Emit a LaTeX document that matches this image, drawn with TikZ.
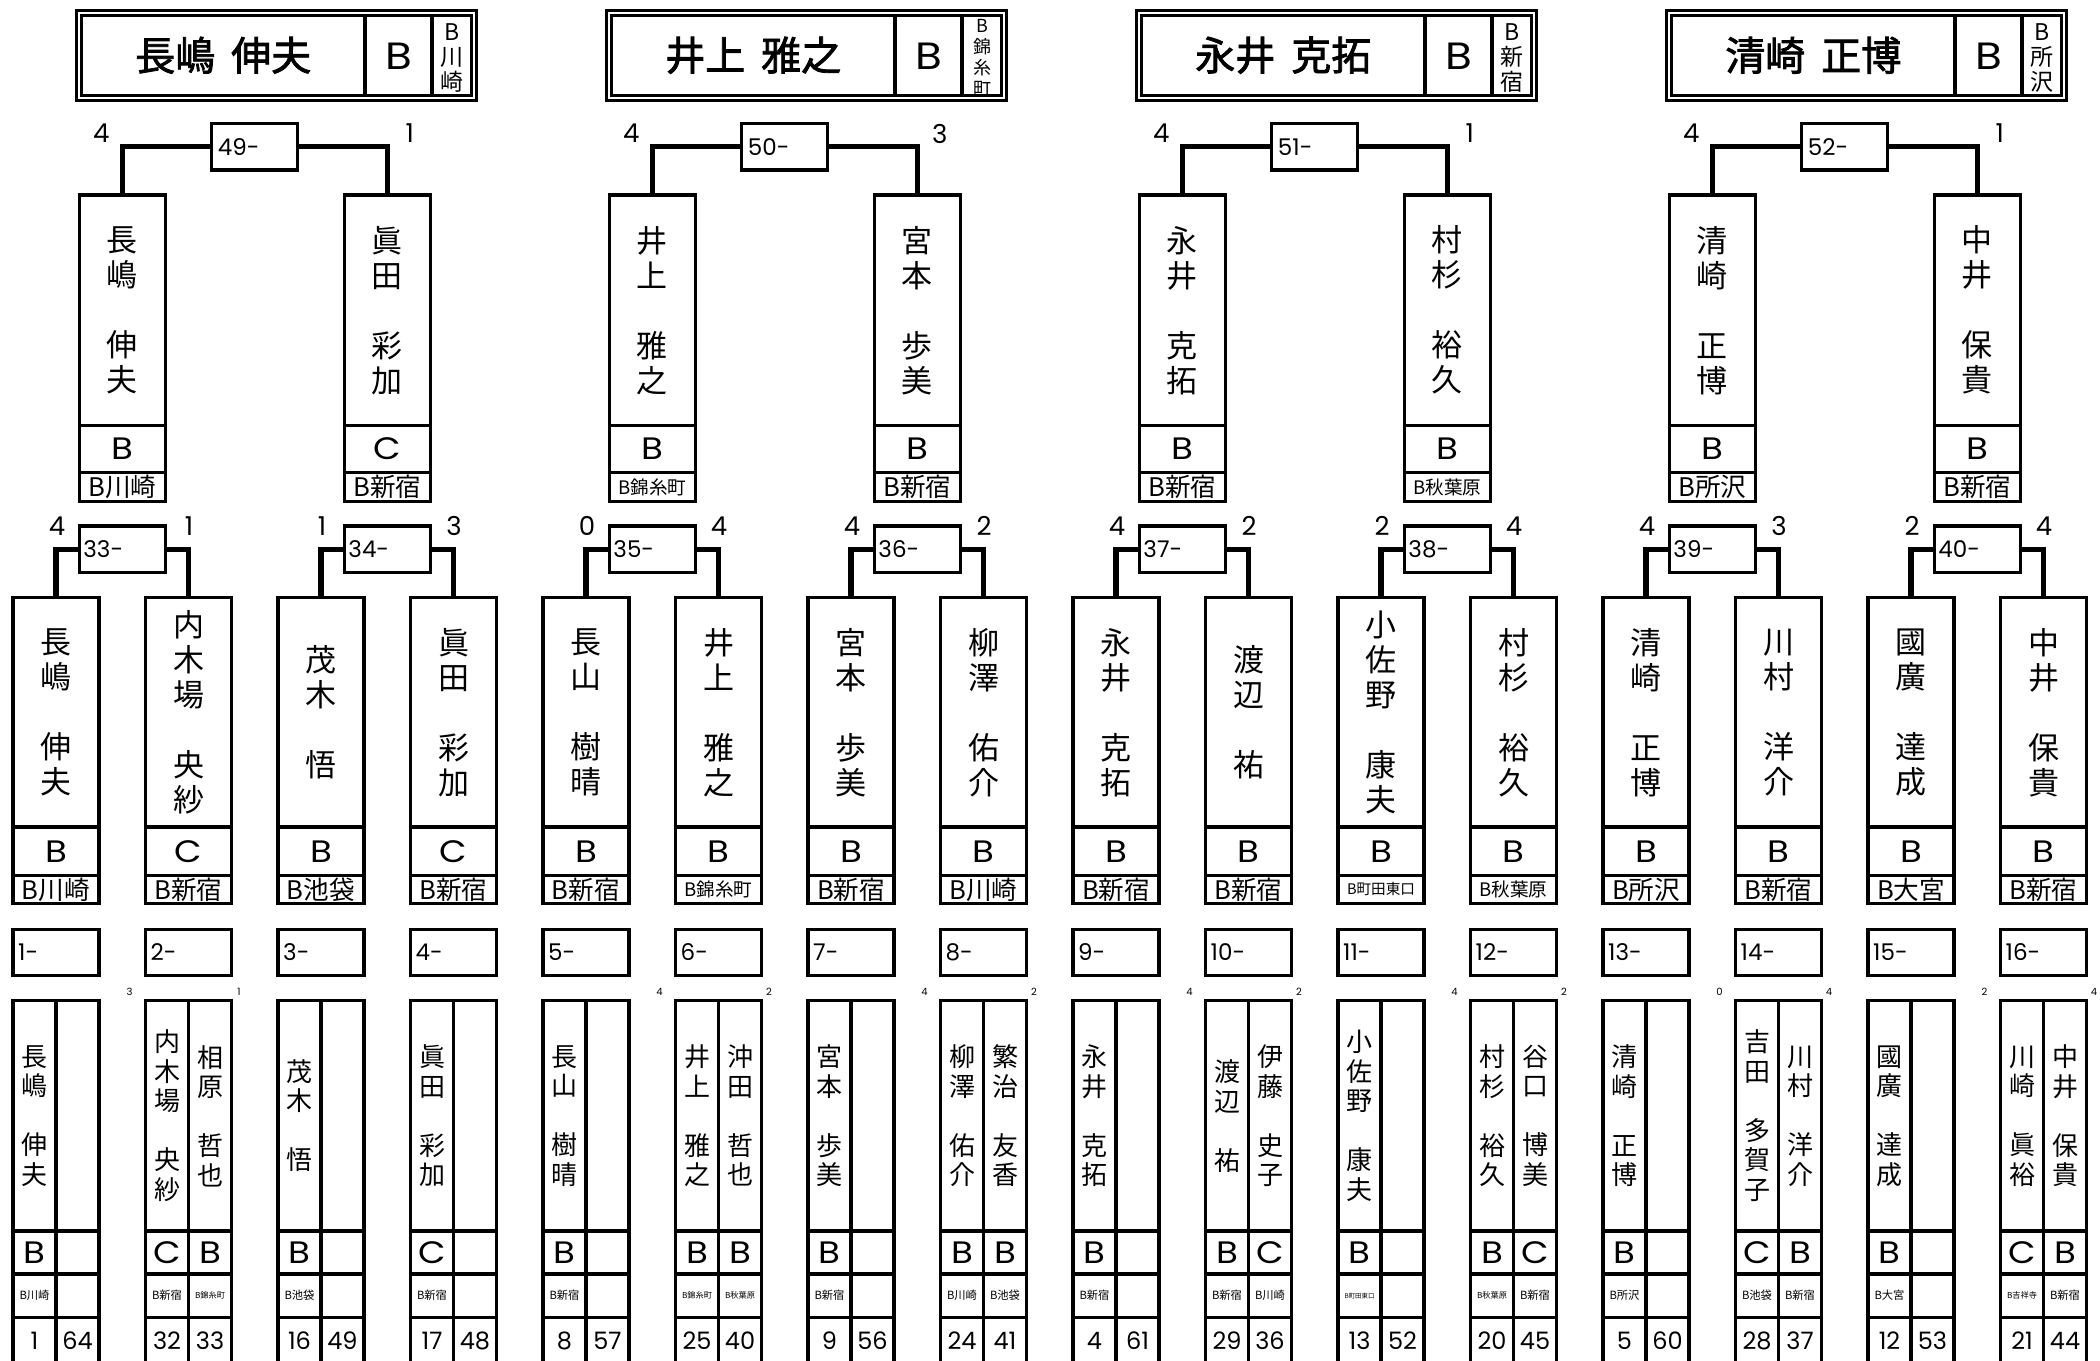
\documentclass[tikz,border=0pt]{standalone}
\usepackage{fontspec}
\usepackage{graphicx}
\setmainfont{Noto Sans CJK JP}
\newfontfamily\latin{Poppins}
\newfontfamily\titlefont[FakeBold=2]{Noto Sans CJK JP}
\makeatletter
\def\vstk#1{\vstk@a#1\vstk@end}
\def\vstk@end{\vstk@end}
\def\vstk@a#1{#1\vstk@b}
\def\vstk@b#1{\ifx#1\vstk@end\else\expandafter\vstk@c\expandafter#1\fi}
\def\vstk@c#1{\\#1\vstk@b}
\newcommand\evstk[1]{\expandafter\vstk\expandafter{#1}}
\makeatother
\newcommand\wide[1]{\scalebox{1.15}[1]{#1}}
\tikzset{
  cell/.style={draw, line width=3.2pt, inner sep=0pt, outer sep=0pt, minimum width=86pt},
  halfcell/.style={draw, line width=3.2pt, inner sep=0pt, outer sep=0pt, minimum width=43pt},
  midname/.style={font=\fontsize{31}{35}\selectfont, align=center},
  botname/.style={font=\fontsize{26}{29.5}\selectfont, align=center},
  grade/.style={font=\latin\fontsize{31}{33}\selectfont},
  numtxt/.style={font=\latin\fontsize{24}{26}\selectfont},
  mlabel/.style={font=\latin\fontsize{23}{25}\selectfont, anchor=west, inner sep=0pt},
  score/.style={font=\latin\fontsize{26}{28}\selectfont, inner sep=0pt},
  tinyscore/.style={font=\latin\fontsize{10}{11}\selectfont, inner sep=0pt},
  bracket/.style={line width=5.5pt},
  divider/.style={line width=3.2pt},
  titlebox/.style={draw, double, line width=3pt, double distance=2pt, inner sep=0pt, outer sep=0pt, minimum width=395pt, minimum height=85pt},
}
\begin{document}
\begin{tikzpicture}[x=1pt,y=-1pt]
\useasboundingbox (0,0) rectangle (2100,1360);
\clip (0,0) rectangle (2100,1360);

% ---------- semifinal boxes ----------
\foreach \s/\nm/\gr/\cl in {
 1/長嶋　伸夫/B/B川崎,
 2/眞田　彩加/C/B新宿,
 3/井上　雅之/B/B錦糸町,
 4/宮本　歩美/B/B新宿,
 5/永井　克拓/B/B新宿,
 6/村杉　裕久/B/B秋葉原,
 7/清崎　正博/B/B所沢,
 8/中井　保貴/B/B新宿}{
  \pgfmathsetmacro\x{122.25+265*(\s-1)}
  \node[cell, minimum height=230.5pt, midname] (sn\s) at (\x,310.25) {\evstk{\nm}};
  \node[cell, minimum height=47.2pt, grade] (sg\s) at (\x,449.1) {\wide{\gr}};
  \node[cell, minimum height=28.6pt] (sc\s) at (\x,487) {\resizebox{68pt}{!}{\cl}};
}

% ---------- titles and final matches ----------
\foreach \kk/\mn/\scl/\scr/\fa/\gv/\club/\fs/\bs/\cy in {
 0/49/4/1/長嶋/伸夫/{B\\川\\崎}/23/25/58,
 1/50/4/3/井上/雅之/{B\\錦\\糸\\町}/18/21/58,
 2/51/4/1/永井/克拓/{B\\新\\宿}/23/25/58,
 3/52/4/1/清崎/正博/{B\\所\\沢}/23/25/58}{
  \pgfmathsetmacro\q{530*\kk}
  \pgfmathtruncatemacro\a{2*\kk+1}
  \pgfmathtruncatemacro\b{2*\kk+2}
  \node[titlebox] (t\kk) at (276.5+\q,55.25) {};
  \draw[divider] (365+\q,14) -- (365+\q,96.5);
  \draw[divider] (432+\q,14) -- (432+\q,96.5);
  \node[font=\titlefont\fontsize{40}{44}\selectfont] (tn\kk) at (223.25+\q,55.25) {\fa\kern0.4em\gv};
  \node[font=\latin\fontsize{38}{40}\selectfont] (tg\kk) at (398.5+\q,56) {\wide{B}};
  \node[align=center, font=\fontsize{\fs}{\bs}\selectfont, inner sep=0pt] (tc\kk) at (452+\q,\cy) {\club};
  \node[cell, minimum height=46.7pt] (f\kk) at (254.75+\q,146.7) {};
  \node[mlabel] at ([xshift=6pt]f\kk.west) {\mn-};
  \draw[bracket] (f\kk.west) -| (sn\a.north);
  \draw[bracket] (f\kk.east) -| (sn\b.north);
  \node[score] at (101.25+\q,133.5) {\scl};
  \node[score] at (409.75+\q,133.5) {\scr};
}

% ---------- first-round winners and match number boxes ----------
\foreach \i/\nm/\gr/\cl in {
 1/長嶋　伸夫/B/B川崎,
 2/内木場　央紗/C/B新宿,
 3/茂木　悟/B/B池袋,
 4/眞田　彩加/C/B新宿,
 5/長山　樹晴/B/B新宿,
 6/井上　雅之/B/B錦糸町,
 7/宮本　歩美/B/B新宿,
 8/柳澤　佑介/B/B川崎,
 9/永井　克拓/B/B新宿,
 10/渡辺　祐/B/B新宿,
 11/小佐野　康夫/B/B町田東口,
 12/村杉　裕久/B/B秋葉原,
 13/清崎　正博/B/B所沢,
 14/川村　洋介/B/B新宿,
 15/國廣　達成/B/B大宮,
 16/中井　保貴/B/B新宿}{
  \pgfmathsetmacro\x{56+132.5*(\i-1)}
  \node[cell, minimum height=229.3pt, midname] (rn\i) at (\x,712.35) {\evstk{\nm}};
  \node[cell, minimum height=48.5pt, grade] (rg\i) at (\x,851.25) {\wide{\gr}};
  \node[cell, minimum height=27.8pt] (rc\i) at (\x,889.4) {\resizebox{68pt}{!}{\cl}};
  \node[cell, minimum height=46.4pt] (mb\i) at (\x,952.5) {};
  \node[mlabel] at ([xshift=5pt]mb\i.west) {\i-};
}

% ---------- second-round matches ----------
\foreach \j/\mn/\scl/\scr in {1/33/4/1, 2/34/1/3, 3/35/0/4, 4/36/4/2, 5/37/4/2, 6/38/2/4, 7/39/4/3, 8/40/2/4}{
  \pgfmathsetmacro\x{122.25+265*(\j-1)}
  \pgfmathtruncatemacro\a{2*\j-1}
  \pgfmathtruncatemacro\b{2*\j}
  \node[cell, minimum height=46.7pt] (m\j) at (\x,549.3) {};
  \node[mlabel] at ([xshift=4pt]m\j.west) {\mn-};
  \draw[bracket] (m\j.west) -| (rn\a.north);
  \draw[bracket] (m\j.east) -| (rn\b.north);
  \node[score] at (\x-65.25,526) {\scl};
  \node[score] at (\x+66.75,526) {\scr};
}

% ---------- bottom entry boxes ----------
\foreach \i/\nm/\gr/\cl/\na/\nb in {
 1/長嶋　伸夫/B/B川崎/1/64,
 2/内木場　央紗/C/B新宿/32/33,
 3/茂木　悟/B/B池袋/16/49,
 4/眞田　彩加/C/B新宿/17/48,
 5/長山　樹晴/B/B新宿/8/57,
 6/井上　雅之/B/B錦糸町/25/40,
 7/宮本　歩美/B/B新宿/9/56,
 8/柳澤　佑介/B/B川崎/24/41,
 9/永井　克拓/B/B新宿/4/61,
 10/渡辺　祐/B/B新宿/29/36,
 11/小佐野　康夫/B/B町田東口/13/52,
 12/村杉　裕久/B/B秋葉原/20/45,
 13/清崎　正博/B/B所沢/5/60,
 14/吉田　多賀子/C/B池袋/28/37,
 15/國廣　達成/B/B大宮/12/53,
 16/川崎　眞裕/C/B吉祥寺/21/44}{
  \pgfmathsetmacro\x{56+132.5*(\i-1)}
  \node[halfcell, minimum height=230.3pt, botname] (bn\i) at (\x-21.5,1115.85) {\evstk{\nm}};
  \node[halfcell, minimum height=230.3pt] (bm\i) at (\x+21.5,1115.85) {};
  \node[halfcell, minimum height=43pt, grade] (bg\i) at (\x-21.5,1252.5) {\wide{\gr}};
  \node[halfcell, minimum height=43pt] (bh\i) at (\x+21.5,1252.5) {};
  \node[halfcell, minimum height=43.3pt] (bc\i) at (\x-21.5,1295.65) {\resizebox{30pt}{!}{\cl}};
  \node[halfcell, minimum height=43.3pt] (bd\i) at (\x+21.5,1295.65) {};
  \node[halfcell, minimum height=47.4pt, numtxt] (bp\i) at (\x-21.5,1341) {\na};
  \node[halfcell, minimum height=47.4pt, numtxt] (bq\i) at (\x+21.5,1341) {\nb};
}

% ---------- second players of doubles pairs ----------
\foreach \i/\nm/\gr/\cl/\scl/\scr in {
 2/相原　哲也/B/B錦糸町/3/1,
 6/沖田　哲也/B/B秋葉原/4/2,
 8/繁治　友香/B/B池袋/4/2,
 10/伊藤　史子/C/B川崎/4/2,
 12/谷口　博美/C/B新宿/4/2,
 14/川村　洋介/B/B新宿/0/4,
 16/中井　保貴/B/B新宿/2/4}{
  \pgfmathsetmacro\x{56+132.5*(\i-1)}
  \node[botname] at (bm\i.center) {\evstk{\nm}};
  \node[grade] at (bh\i.center) {\wide{\gr}};
  \node[inner sep=0pt] at (bd\i.center) {\resizebox{30pt}{!}{\cl}};
  \node[tinyscore] at (\x-59,991.5) {\scl};
  \node[tinyscore] at (\x+50.5,991.5) {\scr};
}
\end{tikzpicture}
\end{document}
